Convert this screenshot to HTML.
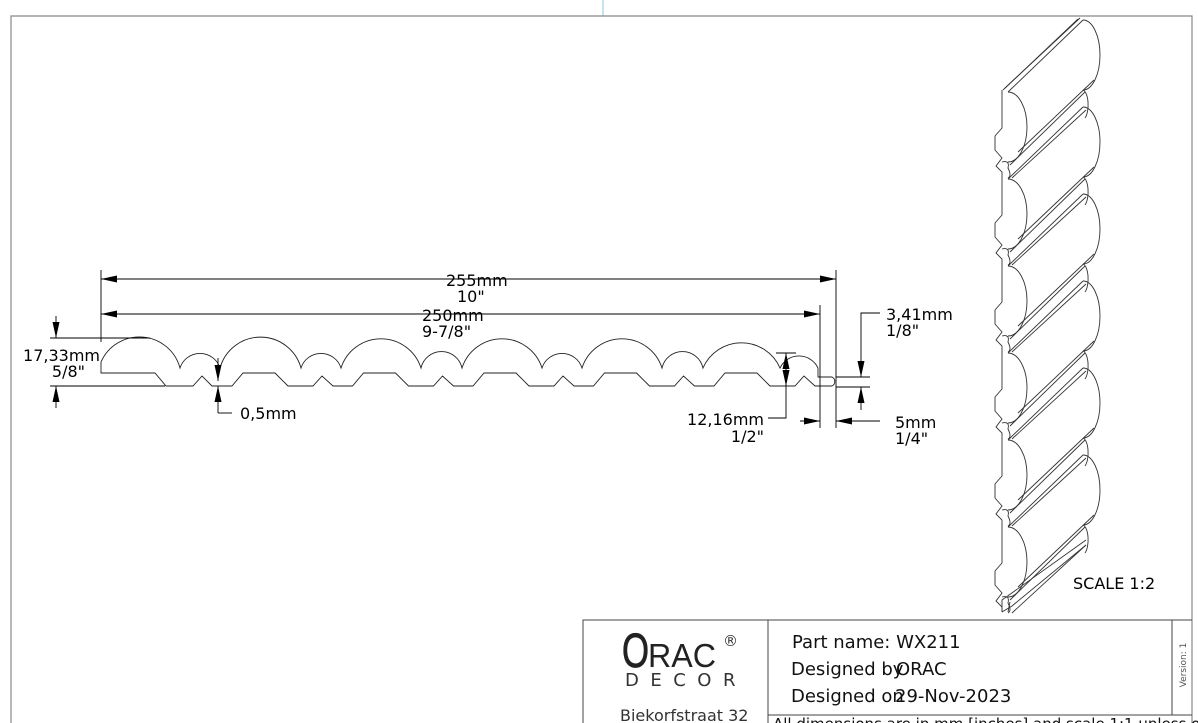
<!DOCTYPE html>
<html><head><meta charset="utf-8"><style>
html,body{margin:0;padding:0;background:#fff;}
svg{display:block;font-family:"DejaVu Sans","Liberation Sans",sans-serif;}
</style></head><body>
<svg width="1198" height="723" viewBox="0 0 1198 723" xmlns="http://www.w3.org/2000/svg">
<defs>
<marker id="ar" viewBox="0 0 16 7" refX="16" refY="3.5" markerWidth="16" markerHeight="7" markerUnits="userSpaceOnUse" orient="auto-start-reverse"><path d="M0,0 L16,3.5 L0,7 z" fill="#000"/></marker>
<g id="iso" fill="none" stroke="#333" stroke-width="0.9">
<path d="M1008,92 A19,35 0 0 1 1008,162"/>
<path d="M1083,20 A17,35 0 0 1 1083,90"/>
<path d="M1008,92 L1083,20"/>
<path d="M1018,152 L1094,80"/>
<path d="M1083,90 A6,15 0 0 1 1085,118"/>
<path d="M1010,165 L1085,92"/>
<path d="M1012,178 L1086,110"/>
<path d="M1002,90 L1002,128 L995,136 L995,150 L1002,158 L996,166 L1002,172 L1002,177"/>
<path d="M1002,162 Q1010,160 1008,168 Q1012,176 1008,178"/>
</g>
</defs>
<rect x="0" y="0" width="1198" height="723" fill="#fff"/>
<line x1="603" y1="0" x2="603" y2="16" stroke="#8cc8d8" stroke-width="1"/>
<path d="M11,723 L11,16 L1192,16 L1192,723" fill="none" stroke="#888" stroke-width="1.2"/>

<!-- profile -->
<path d="M101,362 L101,373 L155,373 L166,386 L193,386 L202,376 L212,386 L232,386 L243,373 L275,373 L288,386 L313,386 L322,376 L333,386 L352.5,386 L363.5,373 L395.5,373 L408.5,386 L433.5,386 L442.5,376 L453.5,386 L473,386 L484,373 L516,373 L529,386 L554,386 L563,376 L574,386 L593.5,386 L604.5,373 L636.5,373 L649.5,386 L674.5,386 L683.5,376 L694.5,386 L714,386 L725,373 L757,373 L770,386 L795,386 L804,376 L815,386 L832,386 A5,5 0 0 0 832,377 L818,377 L818,368" fill="none" stroke="#222" stroke-width="0.9"/>
<path d="M101,362 A42,42 0 0 1 180,368 A21,21 0 0 1 220,368 A42,42 0 0 1 301,368 A21,21 0 0 1 341,368 A42,42 0 0 1 421,368 A21,21 0 0 1 462,368 A42,42 0 0 1 542,368 A21,21 0 0 1 582,368 A42,42 0 0 1 662,368 A21,21 0 0 1 703,368 A42,42 0 0 1 780,368 A21,21 0 0 1 818,368" fill="none" stroke="#222" stroke-width="0.9"/>

<!-- dims -->
<g stroke="#000" stroke-width="0.9" fill="none">
<line x1="101" y1="270" x2="101" y2="342"/>
<line x1="836" y1="270" x2="836" y2="428"/>
<line x1="820" y1="305" x2="820" y2="428"/>
<line x1="101" y1="279" x2="836" y2="279" marker-start="url(#ar)" marker-end="url(#ar)"/>
<line x1="101" y1="314" x2="820" y2="314" marker-start="url(#ar)" marker-end="url(#ar)"/>
<line x1="50" y1="338" x2="150" y2="338"/>
<line x1="50" y1="386" x2="165" y2="386"/>
<line x1="56" y1="316" x2="56" y2="338" marker-end="url(#ar)"/>
<line x1="56" y1="408" x2="56" y2="386" marker-end="url(#ar)"/>
<line x1="218" y1="358" x2="218" y2="381" marker-end="url(#ar)"/>
<path d="M218,413 L218,386" marker-end="url(#ar)"/>
<line x1="218" y1="413" x2="232" y2="413"/>
<line x1="776" y1="353" x2="796" y2="353"/>
<line x1="786" y1="370" x2="786" y2="353" marker-end="url(#ar)"/>
<line x1="786" y1="369" x2="786" y2="386" marker-end="url(#ar)"/>
<path d="M786,386 L786,418 L768,418"/>
<line x1="800" y1="421" x2="820" y2="421" marker-end="url(#ar)"/>
<line x1="880" y1="421" x2="836" y2="421" marker-end="url(#ar)"/>
<line x1="836" y1="377" x2="870" y2="377"/>
<line x1="836" y1="387" x2="870" y2="387"/>
<path d="M880,313 L861,313 L861,377" marker-end="url(#ar)"/>
<line x1="861" y1="410" x2="861" y2="387" marker-end="url(#ar)"/>
</g>
<g font-size="16" fill="#000">
<text x="446" y="286">255mm</text>
<text x="457" y="302">10"</text>
<text x="422" y="321">250mm</text>
<text x="422" y="337">9-7/8"</text>
<text x="100" y="361" text-anchor="end">17,33mm</text>
<text x="85" y="377" text-anchor="end">5/8"</text>
<text x="240" y="419">0,5mm</text>
<text x="764" y="425" text-anchor="end">12,16mm</text>
<text x="764" y="442" text-anchor="end">1/2"</text>
<text x="886" y="320">3,41mm</text>
<text x="886" y="336">1/8"</text>
<text x="895" y="428">5mm</text>
<text x="895" y="444">1/4"</text>
<text x="1073" y="589">SCALE  1:2</text>
</g>

<!-- iso view -->
<use href="#iso"/>
<use href="#iso" transform="translate(0,87)"/>
<use href="#iso" transform="translate(0,174)"/>
<use href="#iso" transform="translate(0,261)"/>
<use href="#iso" transform="translate(0,348)"/>
<use href="#iso" transform="translate(0,435)"/>
<g fill="none" stroke="#333" stroke-width="0.9">
<path d="M1005,88 L1080,18"/>
<path d="M1003,90 L1078,19"/>
<path d="M1002,612 L1002,600 L1086,540"/>
<path d="M1002,612 L1012,606 L1086,545"/>
<path d="M1008,612 L1010,602"/>
</g>

<!-- title block -->
<g stroke="#444" stroke-width="1" fill="none">
<path d="M583,723 L583,620 L1192,620"/>
<line x1="768" y1="620" x2="768" y2="723"/>
<line x1="1172" y1="620" x2="1172" y2="715"/>
<line x1="768" y1="715" x2="1192" y2="715"/>
</g>
<text x="622" y="667" font-family="Liberation Sans, sans-serif" font-size="48" fill="#222" stroke="#222" stroke-width="0.8" textLength="27" lengthAdjust="spacingAndGlyphs">O</text>
<text x="648" y="667" font-family="Liberation Sans, sans-serif" font-size="33" fill="#222" textLength="68" lengthAdjust="spacingAndGlyphs">RAC</text>
<text x="723" y="646" font-size="15" fill="#333">®</text>
<text x="625" y="686" font-size="18" fill="#333" letter-spacing="11.5">DECOR</text>
<text x="620" y="721" font-size="16" fill="#333">Biekorfstraat 32</text>
<g font-size="18" fill="#111">
<text x="792" y="648">Part name: WX211</text>
<text x="791" y="675">Designed by</text>
<text x="896" y="675">ORAC</text>
<text x="791" y="702">Designed on</text>
<text x="895" y="702">29-Nov-2023</text>
</g>
<text x="1186" y="665" font-size="9" fill="#555" transform="rotate(-90 1186 665)" text-anchor="middle">Version: 1</text>
<text x="773" y="729" font-size="15" fill="#111">All dimensions are in mm [inches] and scale 1:1 unless otherwise</text>
</svg>
</body></html>
